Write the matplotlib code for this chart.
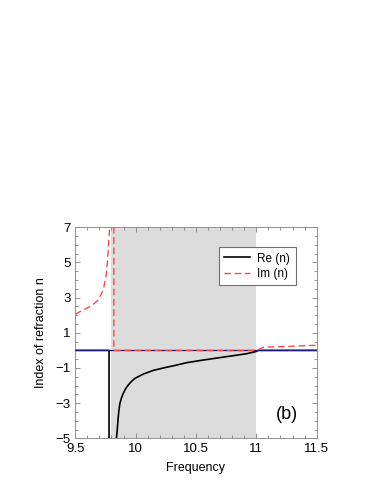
import numpy as np
import matplotlib
matplotlib.use("Agg")
import matplotlib.pyplot as plt
from matplotlib.ticker import MultipleLocator

plt.rcParams['font.family'] = ['Liberation Sans', 'DejaVu Sans']

# Re(n) (vertical drop at 9.78, gap, then curve)
re_freq = [9.5, 9.78, 9.78, np.nan, 9.836, 9.841, 9.848, 9.854, 9.861, 9.870, 9.883,
           9.898, 9.918, 9.939, 9.965, 9.995, 10.063, 10.146, 10.243, 10.33,
           10.423, 10.55, 10.699, 10.82, 10.92, 11.0, 11.016, 11.5]
re_vals = [0.0, 0.0, -6.0, np.nan, -5.6, -5.0, -4.50, -3.96, -3.45, -3.01, -2.70,
           -2.44, -2.17, -1.97, -1.77, -1.59, -1.35, -1.14, -0.98, -0.85,
           -0.70, -0.56, -0.41, -0.29, -0.19, -0.06, 0.0, 0.0]

# Im(n)
im_freq = [9.5, 9.566, 9.636, 9.691, 9.732, 9.754, 9.768, 9.776, 9.785, 9.79, np.nan,
           9.82, 9.82, 11.0, 11.06, 11.2, 11.34, 11.5]
im_vals = [2.05, 2.30, 2.53, 2.87, 3.44, 4.19, 5.14, 6.09, 7.0, 7.6, np.nan,
           7.6, 0.0, 0.0, 0.18, 0.21, 0.25, 0.29]

band = (9.80, 11.0)
xticks = [9.5, 10, 10.5, 11, 11.5]
xticklabels = ['9.5', '10', '10.5', '11', '11.5']
yticks = [-5, -3, -1, 1, 3, 5, 7]
yticklabels = ['\u22125', '\u22123', '\u22121', '1', '3', '5', '7']

fig = plt.figure(figsize=(3.82, 4.94), dpi=100)
ax = fig.add_axes([0.197, 0.1127, 0.632, 0.4273])

ax.axvspan(band[0], band[1], color='#dcdcdc', lw=0, zorder=0)
ax.plot(re_freq, re_vals, color='black', lw=1.2, zorder=2, label='Re (n)')
ax.axhline(0, color='#1c1c7c', lw=0.9, zorder=3)
ax.plot(im_freq, im_vals, color='#ff4040', lw=0.95, dashes=(5, 2.8), zorder=4,
        label='Im (n)')

ax.set_xlim(9.5, 11.5)
ax.set_ylim(-5, 7)
ax.set_xticks(xticks)
ax.set_xticklabels(xticklabels)
ax.set_yticks(yticks)
ax.set_yticklabels(yticklabels)
ax.xaxis.set_minor_locator(MultipleLocator(0.1))
ax.yaxis.set_minor_locator(MultipleLocator(0.5))
ax.tick_params(which='both', direction='in', top=True, right=True, color='#808080',
               labelsize=9.5, width=0.6)
ax.tick_params(which='major', length=3.5, pad=3.5)
ax.tick_params(which='minor', length=2)
for s in ax.spines.values():
    s.set_color('#909090')
    s.set_linewidth(0.7)

ax.set_xlabel('Frequency', fontsize=9, labelpad=5)
ax.set_ylabel('Index of refraction n', fontsize=9, labelpad=6)

ax.text(11.254, -3.67, '(b)', fontsize=13, ha='center', va='center')

leg = ax.legend(loc='upper right', bbox_to_anchor=(0.913, 0.905), fontsize=8.5,
                fancybox=False, framealpha=1, edgecolor='#707070',
                handlelength=2.2, handletextpad=0.6, borderpad=0.45,
                labelspacing=0.3, borderaxespad=0)
leg.get_frame().set_linewidth(0.8)

fig.savefig('out.png', dpi=100)
